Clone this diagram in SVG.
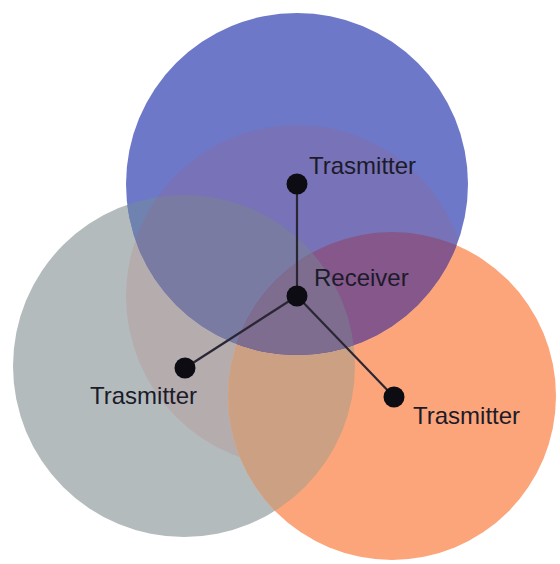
<svg xmlns="http://www.w3.org/2000/svg" width="560" height="564" viewBox="0 0 560 564">
  <style>
    .label { font-family: "Liberation Sans", Arial, sans-serif; font-size: 24px; fill: #1c1b2a; }
    .dot { fill: #0d0c12; }
    .link { stroke: #2a2735; stroke-width: 2.2; fill: none; }
    .tint { fill: #c0504a; fill-opacity: 0.13; }
  </style>
  <defs>
    <clipPath id="clipBlue"><circle cx="297" cy="184" r="171"/></clipPath>
    <clipPath id="clipGray"><circle cx="184" cy="366" r="171"/></clipPath>
    <clipPath id="clipOrange"><circle cx="392" cy="396" r="164"/></clipPath>
  </defs>
  <rect width="560" height="564" fill="#ffffff"/>

  <!-- coverage areas of the three transmitters and the receiver -->
  <g id="coverage">
    <circle cx="184" cy="366" r="171" fill="#b4bbbd"/>
    <!-- receiver range seen through the grey area -->
    <circle class="tint" cx="297" cy="296" r="171" clip-path="url(#clipGray)"/>
    <circle cx="392" cy="396" r="164" fill="#fca57a"/>
    <circle cx="184" cy="366" r="171" fill="#cca183" clip-path="url(#clipOrange)"/>
    <circle cx="297" cy="184" r="171" fill="#6e78c8"/>
    <circle cx="297" cy="184" r="171" fill="#7082b0" clip-path="url(#clipGray)"/>
    <circle cx="297" cy="184" r="171" fill="#7c5993" clip-path="url(#clipOrange)"/>
    <g clip-path="url(#clipGray)">
      <circle cx="297" cy="184" r="171" fill="#757299" clip-path="url(#clipOrange)"/>
    </g>
    <!-- receiver range seen through the blue area -->
    <circle class="tint" cx="297" cy="296" r="171" clip-path="url(#clipBlue)"/>
  </g>

  <g id="connectors">
    <line class="link" x1="297" y1="184" x2="297" y2="296"/>
    <line class="link" x1="297" y1="296" x2="185" y2="368"/>
    <line class="link" x1="297" y1="296" x2="394" y2="397"/>
  </g>

  <g id="tx-top">
    <circle class="dot" cx="297" cy="184" r="10.5"/>
    <text class="label" x="309" y="174">Trasmitter</text>
  </g>
  <g id="receiver">
    <circle class="dot" cx="297" cy="296" r="10.5"/>
    <text class="label" x="314" y="286">Receiver</text>
  </g>
  <g id="tx-left">
    <circle class="dot" cx="185" cy="368" r="10.5"/>
    <text class="label" x="90" y="404">Trasmitter</text>
  </g>
  <g id="tx-right">
    <circle class="dot" cx="394" cy="397" r="10.5"/>
    <text class="label" x="413" y="424">Trasmitter</text>
  </g>
</svg>
